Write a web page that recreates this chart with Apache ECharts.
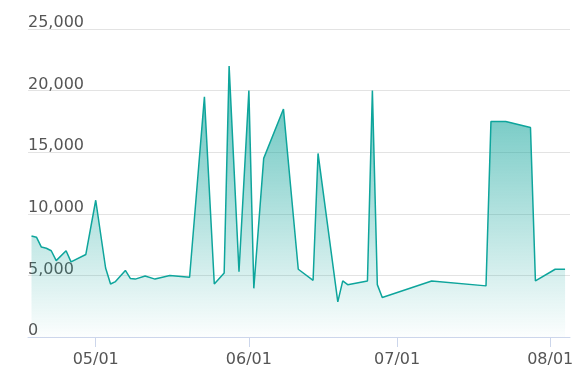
<!DOCTYPE html>
<html>
<head>
<meta charset="utf-8">
<script src="https://cdn.jsdelivr.net/npm/echarts@6/dist/echarts.min.js"></script>
<style>
html,body{margin:0;padding:0;background:#fff;}
#chart{width:588px;height:386px;}
</style>
</head>
<body>
<div id="chart"></div>
<script>
var dates = ['2023-04-18','2023-04-19','2023-04-20','2023-04-21','2023-04-22','2023-04-23','2023-04-25','2023-04-26','2023-04-29','2023-05-01','2023-05-03','2023-05-04','2023-05-05','2023-05-07','2023-05-08','2023-05-09','2023-05-11','2023-05-13','2023-05-16','2023-05-20','2023-05-23','2023-05-25','2023-05-27','2023-05-28','2023-05-30','2023-06-01','2023-06-02','2023-06-04','2023-06-08','2023-06-11','2023-06-14','2023-06-15','2023-06-19','2023-06-20','2023-06-21','2023-06-25','2023-06-26','2023-06-27','2023-06-28','2023-07-08','2023-07-19','2023-07-20','2023-07-23','2023-07-28','2023-07-29','2023-08-02','2023-08-04'];
var values = [8200,8100,7300,7200,7000,6200,7000,6100,6700,11100,5600,4300,4500,5400,4750,4700,4950,4700,5000,4850,19500,4300,5200,22000,5300,20000,3950,14500,18500,5500,4600,14900,2850,4550,4250,4550,20000,4250,3200,4550,4150,17500,17500,17000,4550,5500,5500];
var yTicks = [0,5000,10000,15000,20000,25000];

function ts(s){var p=s.split('-');return new Date(+p[0],+p[1]-1,+p[2]).getTime();}
var seriesData = dates.map(function(d,i){return [ts(d), values[i]];});
var DAY = 86400000;

var chart = echarts.init(document.getElementById('chart'));
chart.setOption({
  animation:false,
  grid:{left:28,right:18,top:29,bottom:49,containLabel:false},
  xAxis:{
    type:'time',
    min:new Date(2023,3,17,7).getTime(),
    max:new Date(2023,7,5).getTime(),
    minInterval:28*DAY,
    axisLine:{show:true,lineStyle:{color:'#ccd6eb',width:1}},
    axisTick:{show:true,length:10,lineStyle:{color:'#ccd6eb'}},
    axisLabel:{
      color:'#555555',fontSize:16,margin:15,
      fontFamily:'DejaVu Sans',
      hideOverlap:false,
      formatter:function(v){var d=new Date(v);var m=d.getMonth()+1,dd=d.getDate();return (m<10?'0':'')+m+'/'+(dd<10?'0':'')+dd;}
    },
    splitLine:{show:false}
  },
  yAxis:{
    type:'value',
    min:yTicks[0],max:yTicks[yTicks.length-1],interval:5000,
    axisLine:{show:false},axisTick:{show:false},
    axisLabel:{
      inside:true,margin:0,verticalAlign:'bottom',lineHeight:12,
      color:'#555555',fontSize:16,fontFamily:'DejaVu Sans',
      formatter:function(v){return v.toLocaleString('en-US');}
    },
    splitLine:{lineStyle:{color:'#e3e3e3',width:1}}
  },
  series:[{
    type:'line',
    data:seriesData,
    showSymbol:false,
    symbol:'none',
    lineStyle:{color:'#0ea59c',width:1.5},
    itemStyle:{color:'#0ea59c'},
    areaStyle:{
      color:new echarts.graphic.LinearGradient(0,0,0,1,[
        {offset:0,color:'rgba(20,165,156,1)'},
        {offset:1,color:'rgba(20,165,156,0.02)'}
      ])
    }
  }]
});
</script>
</body>
</html>
